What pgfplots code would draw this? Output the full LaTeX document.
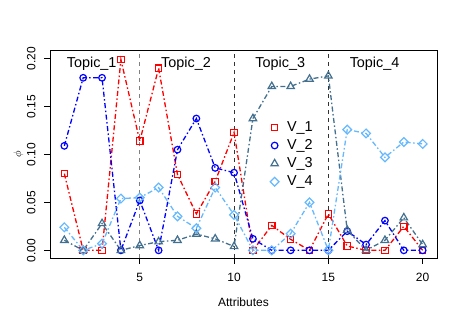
\documentclass[border=0pt]{standalone}
\usepackage{fontspec}
\setmainfont{Liberation Sans}
\usepackage{pgfplots}
\pgfplotsset{compat=1.18}

\definecolor{vone}{HTML}{FF0000}
\definecolor{vtwo}{HTML}{0000FF}
\definecolor{vthree}{HTML}{44708F}
\definecolor{vfour}{HTML}{66B8FF}

\pgfplotstableread{
x   v1     v2     v3     v4
1   0.080  0.109  0.0105 0.024
2   0.000  0.180  0.000  0.000
3   0.000  0.180  0.028  0.007
4   0.199  0.000  0.000  0.054
5   0.114  0.052  0.005  0.055
6   0.190  0.000  0.009  0.0655
7   0.079  0.105  0.0105 0.0355
8   0.038  0.1375 0.017  0.023
9   0.072  0.086  0.012  0.0655
10  0.123  0.081  0.004  0.037
11  0.000  0.012  0.1375 0.000
12  0.026  0.000  0.171  0.000
13  0.0115 0.000  0.171  0.0174
14  0.000  0.000  0.1786 0.050
15  0.038  0.000  0.182  0.000
16  0.0045 0.020  0.021  0.126
17  0.000  0.006  0.000  0.122
18  0.000  0.031  0.0105 0.097
19  0.025  0.000  0.034  0.113
20  0.000  0.000  0.006  0.111
}\loadings

\begin{document}
\begin{tikzpicture}
\useasboundingbox (0,0) rectangle (463bp,321bp);
\begin{axis}[
  at={(50bp,63bp)}, anchor=south west,
  scale only axis,
  width=387bp, height=208bp,
  xmin=0.24, xmax=20.76,
  ymin=-0.008, ymax=0.209,
  axis line style={line width=0.8bp},
  tick align=outside,
  tick pos=left,
  major tick length=6bp,
  tick style={line width=0.8bp, black},
  xtick={5,10,15,20},
  ytick={0,0.05,0.10,0.15,0.20},
  yticklabel style={/pgf/number format/fixed, /pgf/number format/fixed zerofill,
    /pgf/number format/precision=2, rotate=90, anchor=south},
  yticklabel shift=5bp,
  xticklabel shift=6bp,
  scaled y ticks=false,
  /pgf/number format/assume math mode=true,
  ticklabel style={font=\fontsize{12bp}{14bp}\selectfont},
  xlabel={Attributes},
  xlabel style={font=\fontsize{12bp}{14bp}\selectfont, yshift=-9bp},
  ylabel={$\phi$},
  ylabel style={font=\fontsize{11bp}{12bp}\selectfont, yshift=-3bp},
  legend style={draw=none, fill=none, at={(axis cs:11.75,0.1385)}, anchor=north west,
    font=\fontsize{14.4bp}{16bp}\selectfont, row sep=2.6bp,
    /tikz/every odd column/.append style={column sep=6bp}},
  legend cell align=left,
  legend image code/.code={\draw[#1] plot[only marks] coordinates {(0.15cm,0cm)};},
  every axis plot/.append style={line width=1.3bp,
    dash pattern=on 5bp off 2.5bp on 1.5bp off 2.5bp},
]
\addplot[gray, line width=1bp, dash pattern=on 4bp off 4bp, forget plot] coordinates {(5,-0.008) (5,0.209)};
\addplot[black!80, line width=0.8bp, dash pattern=on 4bp off 4bp, forget plot] coordinates {(10,-0.008) (10,0.209)};
\addplot[black!80, line width=0.8bp, dash pattern=on 4bp off 4bp, forget plot] coordinates {(15,-0.008) (15,0.209)};

\addplot[vone, mark=square, mark size=3.2bp, mark options={solid, line width=1.2bp}] table[x=x, y=v1] {\loadings};
\addlegendentry{V\_1}
\addplot[vtwo, mark=o, mark size=3.3bp, mark options={solid, line width=1.2bp}] table[x=x, y=v2] {\loadings};
\addlegendentry{V\_2}
\addplot[vthree, mark=triangle, mark size=4.3bp, mark options={solid, line width=1.2bp}] table[x=x, y=v3] {\loadings};
\addlegendentry{V\_3}
\addplot[vfour, mark=square, mark size=3.1bp, mark options={solid, rotate=45, line width=1.2bp}] table[x=x, y=v4] {\loadings};
\addlegendentry{V\_4}

\node[font=\fontsize{14.4bp}{16bp}\selectfont] at (axis cs:2.45,0.1945) {Topic\_1};
\node[font=\fontsize{14.4bp}{16bp}\selectfont] at (axis cs:7.45,0.1945) {Topic\_2};
\node[font=\fontsize{14.4bp}{16bp}\selectfont] at (axis cs:12.45,0.1945) {Topic\_3};
\node[font=\fontsize{14.4bp}{16bp}\selectfont] at (axis cs:17.45,0.1945) {Topic\_4};
\end{axis}
\end{tikzpicture}
\end{document}
